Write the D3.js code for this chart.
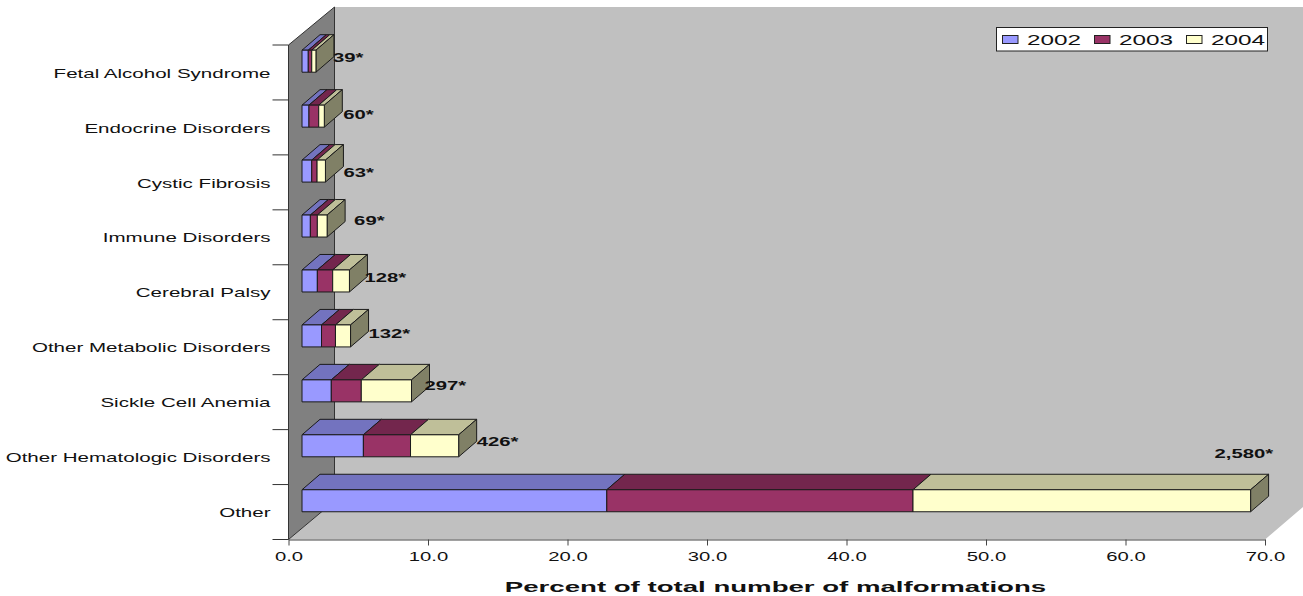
<!DOCTYPE html>
<html>
<head>
<meta charset="utf-8">
<script src="https://cdn.jsdelivr.net/npm/d3@7"></script>
<style>
html,body{margin:0;padding:0;background:#fff;}
svg{display:block;}
text{font-family:"Liberation Sans",Arial,sans-serif;fill:#111;}
</style>
</head>
<body>
<svg id="chart" width="1303" height="596"></svg>
<script>
// Share of all recorded malformations, by condition and year (stacked)
const categories = ["Fetal Alcohol Syndrome","Endocrine Disorders","Cystic Fibrosis","Immune Disorders","Cerebral Palsy","Other Metabolic Disorders","Sickle Cell Anemia","Other Hematologic Disorders","Other"];
const years = ["2002","2003","2004"];
const values2002 = [0.45,0.5,0.7,0.6,1.1,1.4,2.1,4.4,21.85];
const values2003 = [0.25,0.7,0.38,0.5,1.1,1.0,2.15,3.38,21.95];
const values2004 = [0.3,0.4,0.6,0.7,1.2,1.08,3.6,3.45,24.2];
const caseCounts = ["39*","60*","63*","69*","128*","132*","297*","426*","2,580*"];
const xTicks = [0,10,20,30,40,50,60,70];

// Hand placement of the count labels relative to each bar's right end
const countNudgeX = [17,19,18,27,15,18,13,18,-36];
const countNudgeY = [-4,-2,1,-6,-4,-2,-5,-4,-47];

const frontColors = ["#9999FF","#993366","#FFFFCC"];
const topColors = ["#7373BF","#73264D","#BFBF99"];
const sideColor = "#808066";

const svg = d3.select("#chart");
const x = d3.scaleLinear().domain([0,70]).range([288.5,1265]);
const y = d3.scaleBand().domain(categories).range([45,539.5]);

// Perspective offsets of the 3-D box
const wallDX = 46, wallDY = -38.5;
const barShift = 13.5, barDrop = 5.2, barH = 22, depthX = 18, depthY = -15.5;

// Horizontally widened text: measure natural width, then stretch the glyphs
function widen(sel, k){
  sel.each(function(){
    const w = this.getComputedTextLength();
    d3.select(this).attr("textLength", w*k).attr("lengthAdjust","spacingAndGlyphs");
  });
}

const x0 = x(0), x70 = x(70), yTop = y.range()[0], yBot = y.range()[1];
const line = d3.line();

// Back wall and floor share one grey silhouette
svg.append("path")
  .attr("d", line([[x0+wallDX,7],[1303,7],[1303,507],[x70,yBot],[x0,yBot],[x0+wallDX,yBot+wallDY]])+"Z")
  .attr("fill","#C0C0C0");
// Side wall
svg.append("path")
  .attr("d", line([[x0,yTop],[x0+wallDX,7],[x0+wallDX,yBot+wallDY],[x0,yBot]])+"Z")
  .attr("fill","#808080").attr("stroke","#333").attr("stroke-width",1);

// Stacked boxes
const series = [values2002,values2003,values2004];
categories.forEach((cat,i)=>{
  const top = y(cat)+barDrop;
  let acc = 0;
  const g = svg.append("g").attr("stroke","#1a1a1a").attr("stroke-width",1).attr("stroke-linejoin","round");
  const segs = series.map((s,k)=>{ const a = acc; acc += s[i]; return {k,a,b:acc}; });
  segs.forEach(s=>{
    const l = x(s.a)+barShift, r = x(s.b)+barShift;
    g.append("path")
      .attr("d", line([[l,top],[r,top],[r+depthX,top+depthY],[l+depthX,top+depthY]])+"Z")
      .attr("fill",topColors[s.k]);
  });
  const endX = x(acc)+barShift;
  g.append("path")
    .attr("d", line([[endX,top],[endX+depthX,top+depthY],[endX+depthX,top+depthY+barH],[endX,top+barH]])+"Z")
    .attr("fill",sideColor);
  segs.forEach(s=>{
    const l = x(s.a)+barShift, r = x(s.b)+barShift;
    g.append("rect").attr("x",l).attr("y",top).attr("width",r-l).attr("height",barH)
      .attr("fill",frontColors[s.k]);
  });
  svg.append("text")
    .attr("x",endX+countNudgeX[i]).attr("y",top+barH/2+countNudgeY[i])
    .attr("dy","0.35em").attr("font-size",13).attr("font-weight","bold")
    .text(caseCounts[i]).call(widen,1.56);
});

// Category axis: labels centred on the bands, ticks on the band edges
const yAxis = svg.append("g").attr("transform",`translate(${x0},1)`)
  .call(d3.axisLeft(y).tickSize(0).tickPadding(18));
yAxis.select(".domain").remove();
yAxis.selectAll("text").attr("font-size",13).attr("font-family",null).call(widen,1.58);
d3.range(categories.length+1).forEach(i=>{
  const yy = yTop + i*y.step();
  svg.append("line").attr("x1",x0-16).attr("x2",x0).attr("y1",yy).attr("y2",yy)
    .attr("stroke","#333");
});

// Value axis
const xAxis = svg.append("g").attr("transform",`translate(0,${yBot})`)
  .call(d3.axisBottom(x).tickValues(xTicks).tickFormat(d3.format(".1f")).tickSize(6).tickSizeOuter(0).tickPadding(6));
xAxis.selectAll(".domain,line").attr("stroke","#444");
xAxis.selectAll("text").attr("font-size",13).attr("font-family",null).call(widen,1.56);

svg.append("text").attr("x",775.5).attr("y",592)
  .attr("text-anchor","middle").attr("font-size",15).attr("font-weight","bold")
  .text("Percent of total number of malformations").call(widen,1.84);

// Legend
const legend = svg.append("g");
legend.append("rect").attr("x",996.5).attr("y",27.5).attr("width",271).attr("height",23.5)
  .attr("fill","#fff").attr("stroke","#222");
const legendX = d3.scalePoint().domain(years).range([1002,1186]);
years.forEach((yr,k)=>{
  legend.append("rect").attr("x",legendX(yr)+.5).attr("y",35.5).attr("width",15.5).attr("height",8)
    .attr("fill",frontColors[k]).attr("stroke","#222");
  legend.append("text").attr("x",legendX(yr)+25).attr("y",39.5).attr("dy","0.35em")
    .attr("font-size",15).text(yr).call(widen,1.62);
});
</script>
</body>
</html>
